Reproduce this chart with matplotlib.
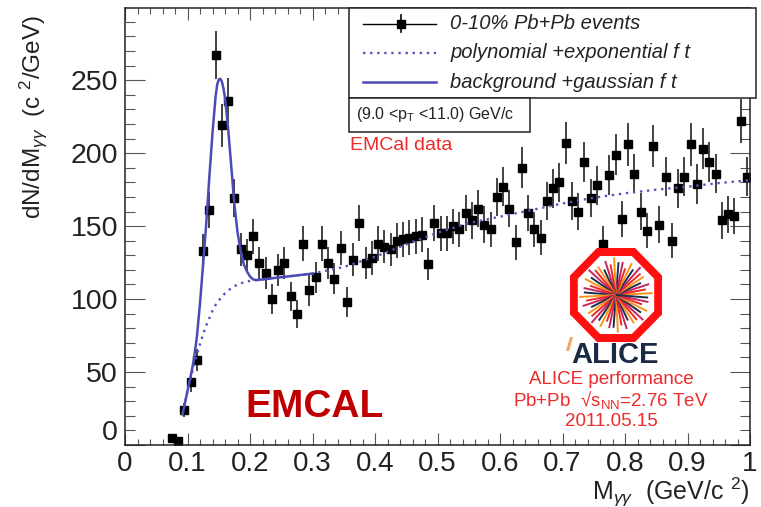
import numpy as np
import matplotlib
matplotlib.use('Agg')
import matplotlib.pyplot as plt
import matplotlib.transforms as mtransforms
from matplotlib.patches import Rectangle, Polygon
from matplotlib.lines import Line2D
from matplotlib.ticker import MultipleLocator, FuncFormatter

# invariant mass bin centres (GeV/c^2) and counts
mass = [0.075, 0.085, 0.095, 0.105, 0.115, 0.125, 0.135, 0.145, 0.155, 0.165,
        0.175, 0.185, 0.195, 0.205, 0.215, 0.225, 0.235, 0.245, 0.255, 0.265,
        0.275, 0.285, 0.295, 0.305, 0.315, 0.325, 0.335, 0.345, 0.355, 0.365,
        0.375, 0.385, 0.395, 0.405, 0.415, 0.425, 0.435, 0.445, 0.455, 0.465,
        0.475, 0.485, 0.495, 0.505, 0.515, 0.525, 0.535, 0.545, 0.555, 0.565,
        0.575, 0.585, 0.595, 0.605, 0.615, 0.625, 0.635, 0.645, 0.655, 0.665,
        0.675, 0.685, 0.695, 0.705, 0.715, 0.725, 0.735, 0.745, 0.755, 0.765,
        0.775, 0.785, 0.795, 0.805, 0.815, 0.825, 0.835, 0.845, 0.855, 0.865,
        0.875, 0.885, 0.895, 0.905, 0.915, 0.925, 0.935, 0.945, 0.955, 0.965,
        0.975, 0.985, 0.995]
counts = [5, 3, 24, 43, 58, 133, 161, 267, 219, 236,
          169, 134, 130, 143, 125, 118, 100, 120, 125, 102,
          90, 138, 106, 115, 138, 125, 114, 135, 98, 127,
          152, 125, 128, 138, 136, 134, 140, 141, 142, 143,
          144, 124, 152, 145, 145, 150, 148, 159, 154, 162,
          151, 148, 170, 177, 162, 139, 190, 159, 148, 142,
          167, 176, 180, 207, 167, 160, 194, 169, 178, 138,
          185, 199, 155, 206, 186, 160, 147, 205, 151, 184,
          140, 176, 184, 206, 179, 203, 194, 186, 154, 158,
          157, 222, 184]
errors = [2, 2, 5, 6.5, 7.5, 11.5, 12.5, 16.5, 15, 15.5,
          13, 11.5, 11.5, 12, 11, 11, 10, 11, 11, 10,
          9.5, 12, 10.5, 10.5, 12, 11, 10.5, 11.5, 10, 11.5,
          12.5, 11, 11.5, 12, 11.5, 11.5, 12, 12, 12, 12,
          12, 11, 12.5, 12, 12, 12, 12, 12.5, 12.5, 12.5,
          12.5, 12, 13, 13.5, 12.5, 12, 14, 12.5, 12, 12,
          13, 13.5, 13.5, 14.5, 13, 12.5, 14, 13, 13.5, 12,
          13.5, 14, 12.5, 14.5, 13.5, 12.5, 12, 14.5, 12.5, 13.5,
          12, 13.5, 13.5, 14.5, 13.5, 14, 14, 13.5, 12.5, 12.5,
          12.5, 15, 13.5]

# polynomial + exponential background fit (dotted)
bkg_m = [0.092, 0.1, 0.105, 0.11, 0.115, 0.12, 0.125, 0.13, 0.135, 0.14,
         0.145, 0.15, 0.16, 0.17, 0.18, 0.19, 0.2, 0.22, 0.25, 0.3,
         0.35, 0.4, 0.45, 0.5, 0.55, 0.6, 0.65, 0.7, 0.75, 0.8,
         0.85, 0.9, 0.95, 1.0]
bkg_y = [21, 37, 46, 54, 62, 69, 76, 82, 87, 92,
         96, 99, 104, 107.5, 110, 111.5, 112.5, 113.5, 115, 117.5,
         122, 129, 137.5, 145.5, 152, 156.5, 161, 165.5, 169.5, 172.5,
         175, 177, 179.5, 181.5]

# background + gaussian fit (solid)
sig_m = [0.092, 0.1, 0.105, 0.11, 0.115, 0.12, 0.125, 0.13, 0.135, 0.14,
         0.145, 0.1475, 0.15, 0.1525, 0.155, 0.1575, 0.16, 0.165, 0.17, 0.175,
         0.18, 0.185, 0.19, 0.195, 0.2, 0.205, 0.21, 0.22, 0.25, 0.3]
sig_y = [21, 37, 47, 58, 74, 97, 124, 152, 184, 214,
         239, 247, 250.5, 251, 249, 244.5, 238, 217, 191, 165,
         146, 133, 124, 119, 115.5, 113.5, 113, 113.5, 115, 117.5]

W, H = 761, 507
plt.rcParams['font.family'] = ['Liberation Sans Narrow', 'Liberation Sans', 'DejaVu Sans']
plt.rcParams['mathtext.fontset'] = 'custom'
plt.rcParams['mathtext.rm'] = 'Liberation Sans'
plt.rcParams['mathtext.it'] = 'Liberation Sans:italic'
plt.rcParams['mathtext.bf'] = 'Liberation Sans:bold'

fig = plt.figure(figsize=(W / 100, H / 100), dpi=100)
# pixel coordinates, origin top-left, for the annotations
PX = mtransforms.Affine2D().scale(1.0 / W, -1.0 / H).translate(0, 1) + fig.transFigure

ax = fig.add_axes([125 / W, 1 - 445 / H, 625 / W, (445 - 8) / H])

ax.errorbar(mass, counts, yerr=errors, fmt='s', color='black', ms=6,
            ecolor='#333333', elinewidth=1.3, capsize=0, zorder=2)
ax.plot(bkg_m, bkg_y, color='#5555c0', ls=(0, (1, 2)), lw=1.7, zorder=3)
ax.plot(sig_m, sig_y, color='#4b4bb5', lw=1.8, zorder=3)

ax.set_xlim(0, 1)
ax.set_ylim(0, 299.5)
ax.xaxis.set_major_locator(MultipleLocator(0.1))
ax.xaxis.set_minor_locator(MultipleLocator(0.02))
ax.yaxis.set_major_locator(MultipleLocator(50))
ax.yaxis.set_minor_locator(MultipleLocator(10))
ax.xaxis.set_major_formatter(FuncFormatter(lambda v, p: '%g' % round(v, 2)))
# the "0" on the y axis sits a little higher, as in ROOT
ax.yaxis.set_major_formatter(FuncFormatter(lambda v, p: '' if v == 0 else '%g' % v))

ax.tick_params(which='both', direction='in', top=True, right=True,
               color='#555555', width=0.8, labelcolor='#222222')
ax.tick_params(axis='x', which='major', length=8.6, pad=4, labelsize=20)
ax.tick_params(axis='x', which='minor', length=4.3)
ax.tick_params(axis='y', which='major', length=14.4, pad=5, labelsize=20.5)
ax.tick_params(axis='y', which='minor', length=7)
for s in ax.spines.values():
    s.set_linewidth(1.1)
    s.set_color('#222222')

fig.text(118, 433, '0', transform=PX, ha='right', va='center', fontsize=20.5, color='#222222')

# axis titles
fig.text(33, 15, r'dN/dM$_{\gamma\gamma}$  (c $^{2}$/GeV)', transform=PX, rotation=90,
         ha='center', va='top', fontsize=17.5, color='#222222')
fig.text(749, 492, r'M$_{\gamma\gamma}$  (GeV/c $^{2}$)', transform=PX,
         ha='right', va='center', fontsize=18, color='#222222')

# legend box
fig.add_artist(Rectangle((349, 8), 407, 89.6, transform=PX, fill=True, fc='white',
                         ec='#222222', lw=1.1, zorder=5))
fig.add_artist(Rectangle((349, 97.6), 181, 34.4, transform=PX, fill=True, fc='white',
                         ec='#222222', lw=1.1, zorder=5))
fig.add_artist(Line2D([363, 436], [23.6, 23.6], transform=PX, color='black', lw=1, zorder=6))
fig.add_artist(Line2D([400.6, 400.6], [15, 32], transform=PX, color='black', lw=1.2, zorder=6))
fig.add_artist(Line2D([400.6], [23.6], transform=PX, marker='s', ms=6, color='black', zorder=6))
fig.add_artist(Line2D([363, 436], [53, 53], transform=PX, color='#5555c0',
                      ls=(0, (1, 2)), lw=1.7, zorder=6))
fig.add_artist(Line2D([363, 436], [82, 82], transform=PX, color='#4b4bb5', lw=1.8, zorder=6))
leg_txt = ['0-10% Pb+Pb events', 'polynomial +exponential f t', 'background +gaussian f t']
for t, y in zip(leg_txt, [23.6, 53, 82]):
    fig.text(450, y, t, transform=PX, ha='left', va='center', fontsize=14.5,
             style='italic', family='Liberation Sans', color='#222222', zorder=7)
fig.text(356, 114, r'(9.0 <p$_{\mathrm{T}}$ <11.0) GeV/c', transform=PX, ha='left',
         va='center', fontsize=11.5, family='Liberation Sans', color='#222222', zorder=7)

red = '#ee2a2a'
fig.text(350, 146, 'EMCal data', transform=PX, ha='left', va='center', fontsize=14,
         color=red, family='Liberation Sans')
fig.text(315, 407, 'EMCAL', transform=PX, ha='center', va='center', fontsize=28,
         fontweight='bold', color='#c00000', family='Liberation Sans')

# ALICE logo
lax = fig.add_axes([570 / W, 1 - 342 / H, 92 / W, 94 / H])
lax.set_xlim(-1, 1)
lax.set_ylim(-1, 1)
lax.axis('off')
ang = np.deg2rad(22.5 + 45 * np.arange(8))
for apo, col in [(1.0, '#ff1010'), (0.83, 'white')]:
    r = apo / np.cos(np.deg2rad(22.5))
    lax.add_patch(Polygon(np.c_[r * np.cos(ang), r * np.sin(ang)], closed=True,
                          fc=col, ec='none'))
ray_cols = ['#f7941d', '#ee2a24', '#c8245f', '#1c3049']
ray_len = [0.8, 0.66, 0.76, 0.6, 0.72, 0.7]
for k in range(48):
    a = np.deg2rad(k * 7.5 + 3)
    L = ray_len[k % 6]
    lax.plot([0, L * np.cos(a)], [0, L * np.sin(a)], color=ray_cols[k % 4], lw=1.4,
             solid_capstyle='butt')

fig.add_artist(Polygon([(566, 351), (570, 337), (573, 337), (569, 351)], closed=True,
                       transform=PX, fc='#f7a35c', ec='none'))
fig.text(615, 355, 'ALICE', transform=PX, ha='center', va='center', fontsize=21,
         fontweight='bold', color='#1b2b44', family='Liberation Sans')
fig.text(611, 379, 'ALICE performance', transform=PX, ha='center', va='center',
         fontsize=13.5, color=red, family='Liberation Sans')
fig.text(611, 400, 'Pb+Pb  \u221as$_{\\mathrm{NN}}$=2.76 TeV', transform=PX, ha='center',
         va='center', fontsize=13.5, color=red, family='Liberation Sans')
fig.text(611, 422, '2011.05.15', transform=PX, ha='center', va='center',
         fontsize=13.5, color=red, family='Liberation Sans')

fig.savefig('out.png', dpi=100)
